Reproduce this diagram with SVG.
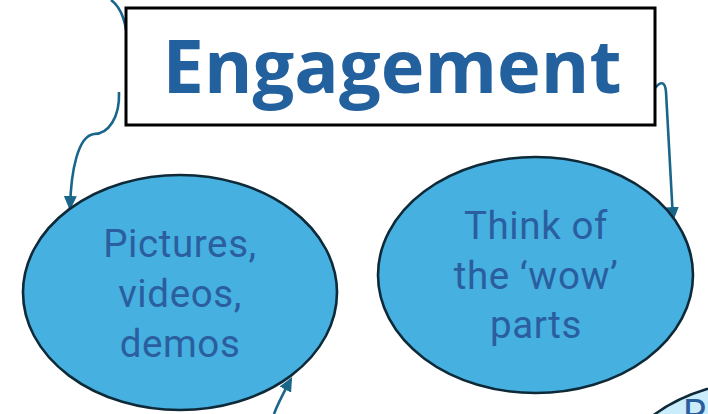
<svg xmlns="http://www.w3.org/2000/svg" width="708" height="414" viewBox="0 0 708 414">
<style>
.conn{fill:none;stroke:#1A668A;stroke-width:2.6;}
.ell{fill:#46B0E0;stroke:#0E2A38;stroke-width:2.6;}
.ell2{fill:#CBECFA;stroke:#0E2A38;stroke-width:2.6;}
.lbl{font-family:Roboto,"Noto Sans",sans-serif;font-size:38.5px;letter-spacing:0.6px;fill:#2A5E9E;text-anchor:middle;}
.title{font-family:"Open Sans","DejaVu Sans",sans-serif;font-weight:bold;font-size:74px;fill:#23609E;text-anchor:middle;}
</style>
<defs>
<marker id="ah" markerWidth="5.5" markerHeight="5" refX="4.6" refY="2.5" orient="auto" markerUnits="strokeWidth">
<path d="M0,0 L5.5,2.5 L0,5 Z" fill="#1A668A"/>
</marker>
</defs>
<rect width="708" height="414" fill="#FFFFFF"/>
<g id="connectors">
<path class="conn" d="M111,0 C122,8 127,25 127,43"/>
<path class="conn" d="M119,92 C120,118 108,134 94,134 C78,136 71,170 70,208" marker-end="url(#ah)"/>
<path class="conn" d="M655,88 C660,82 665,80 666,92 L673,219" marker-end="url(#ah)"/>
<path class="conn" d="M274,414 C278,403 283,394 291,379" marker-end="url(#ah)"/>
</g>
<g id="node-engagement">
<rect x="126" y="8" width="529" height="117" fill="#FFFFFF" stroke="#000000" stroke-width="3"/>
<text class="title" x="392" y="93" textLength="459" lengthAdjust="spacingAndGlyphs">Engagement</text>
</g>
<g id="node-pictures">
<ellipse class="ell" cx="180" cy="292.5" rx="157" ry="117.5"/>
<text class="lbl" x="180" y="257">Pictures,</text>
<text class="lbl" x="180" y="307">videos,</text>
<text class="lbl" x="180" y="357">demos</text>
</g>
<g id="node-wow">
<ellipse class="ell" cx="535.5" cy="275" rx="157.5" ry="118"/>
<text class="lbl" x="536" y="239">Think of</text>
<text class="lbl" x="536" y="289">the ‘wow’</text>
<text class="lbl" x="536" y="338">parts</text>
</g>
<g id="node-partial">
<ellipse class="ell2" cx="764" cy="499" rx="157" ry="118"/>
<text class="lbl" x="683" y="427" style="text-anchor:start">Re</text>
</g>
</svg>
